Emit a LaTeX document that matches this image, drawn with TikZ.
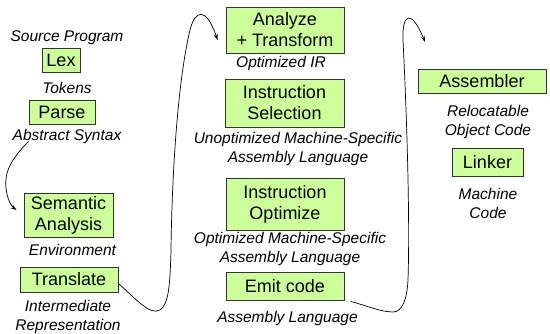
\documentclass[tikz,border=0pt]{standalone}
\usepackage{fontspec}
\setmainfont{Liberation Sans}
\usetikzlibrary{arrows.meta}
\definecolor{phasefill}{RGB}{204,255,153}
\definecolor{phaseline}{RGB}{50,50,50}
\tikzset{
  phase/.style={draw=phaseline, line width=0.9pt, fill=phasefill, inner sep=0pt,
    align=center, font=\fontsize{18}{21}\selectfont},
  lbl/.style={inner sep=0pt, align=center, font=\fontsize{15.5}{19}\selectfont\itshape},
  flow/.style={line width=0.7pt, -{Stealth[length=6pt,width=4pt]}}
}
\begin{document}
\begin{tikzpicture}[x=1pt, y=-1pt]
\useasboundingbox (0,0) rectangle (550,334);

% front end
\node[lbl] (src) at (67,38) {Source Program};
\node[phase, minimum width=38, minimum height=24] (lex) at (61,60) {Lex};
\node[lbl] (tok) at (67,88) {Tokens};
\node[phase, minimum width=66, minimum height=24] (parse) at (62,112) {Parse};
\node[lbl] (ast) at (67,136) {Abstract Syntax};
\node[phase, minimum width=89, minimum height=44] (sem) at (68.5,215) {Semantic\\Analysis};
\node[lbl] (env) at (72.5,250) {Environment};
\node[phase, minimum width=98, minimum height=25] (tr) at (69,279.5) {Translate};
\node[lbl] (ir) at (68,317) {Intermediate\\Representation};

% back end
\node[phase, minimum width=118, minimum height=46] (opt) at (285,30) {Analyze\\+ Transform};
\node[lbl] (oir) at (281,63) {Optimized IR};
\node[phase, minimum width=119, minimum height=48] (isel) at (284.5,103) {Instruction\\Selection};
\node[lbl] (uasm) at (298,149) {Unoptimized Machine-Specific\\Assembly Language};
\node[phase, minimum width=118, minimum height=52] (iopt) at (285,204) {Instruction\\Optimize};
\node[lbl] (oasm) at (290,248.5) {Optimized Machine-Specific\\Assembly Language};
\node[phase, minimum width=118, minimum height=28] (emit) at (285,286) {Emit code};
\node[lbl] (asm) at (287.5,318) {Assembly Language};

% assembling and linking
\node[phase, minimum width=128, minimum height=24] (as) at (482,81) {Assembler};
\node[lbl] (obj) at (488,121.5) {Relocatable\\Object Code};
\node[phase, minimum width=71, minimum height=28] (ld) at (487.5,162) {Linker};
\node[lbl] (mc) at (488,203) {Machine\\Code};

% connectors between the columns
\coordinate (astfoot) at ([shift={(16,-2)}]ast.south west);
\draw[flow] (astfoot) .. controls (12,158) and (4,172) .. (6,188)
  .. controls (7,198) and (11,206) .. ([shift={(-7,-5)}]sem.west);

\draw[flow] ([shift={(0,4)}]tr.east) .. controls (135,298) and (150,316) .. (160,310)
  .. controls (168,304) and (170,290) .. (171,250)
  .. controls (172,170) and (178,80) .. (190,30)
  .. controls (195,10) and (206,6) .. ([shift={(-8,10)}]opt.west);

\coordinate (asmin) at (425,42);
\draw[flow] ([shift={(6,1)}]emit.south east) .. controls (365,305) and (380,312) .. (393,312)
  .. controls (402,312) and (407,300) .. (408,280)
  .. controls (410,220) and (407,120) .. (403,40)
  .. controls (402,12) and (412,10) .. (asmin);
\end{tikzpicture}
\end{document}
